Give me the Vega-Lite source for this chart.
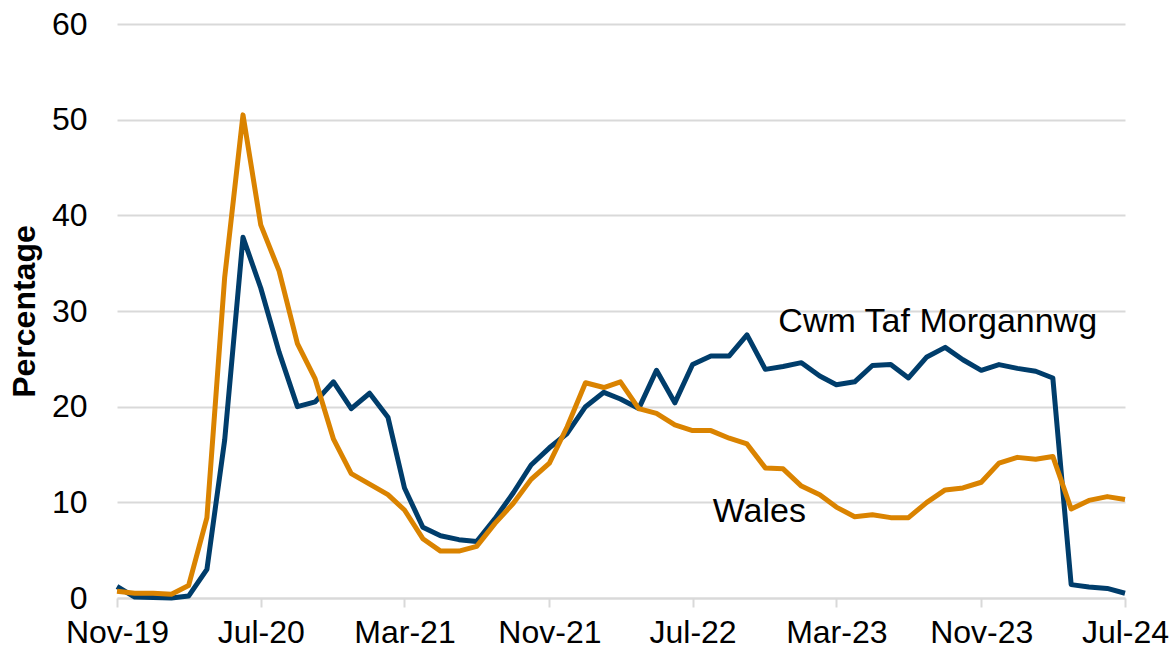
{
  "$schema": "https://vega.github.io/schema/vega-lite/v6.json",
  "autosize": {"type": "none"},
  "width": 1008,
  "height": 574,
  "padding": {"left": 117, "top": 24, "right": 50, "bottom": 53},
  "background": "white",
  "config": {
    "view": {"stroke": null},
    "font": "Liberation Sans",
    "axis": {"labelFont": "Liberation Sans", "titleFont": "Liberation Sans", "labelColor": "#000000", "titleColor": "#000000"}
  },
  "datasets": {
    "series": [
      {"date": "2019-11-01", "area": "Cwm Taf Morgannwg", "value": 1.2},
      {"date": "2019-12-01", "area": "Cwm Taf Morgannwg", "value": 0.1},
      {"date": "2020-01-01", "area": "Cwm Taf Morgannwg", "value": 0.05},
      {"date": "2020-02-01", "area": "Cwm Taf Morgannwg", "value": 0.0},
      {"date": "2020-03-01", "area": "Cwm Taf Morgannwg", "value": 0.2},
      {"date": "2020-04-01", "area": "Cwm Taf Morgannwg", "value": 3.0},
      {"date": "2020-05-01", "area": "Cwm Taf Morgannwg", "value": 16.5},
      {"date": "2020-06-01", "area": "Cwm Taf Morgannwg", "value": 37.7},
      {"date": "2020-07-01", "area": "Cwm Taf Morgannwg", "value": 32.4},
      {"date": "2020-08-01", "area": "Cwm Taf Morgannwg", "value": 25.7},
      {"date": "2020-09-01", "area": "Cwm Taf Morgannwg", "value": 20.0},
      {"date": "2020-10-01", "area": "Cwm Taf Morgannwg", "value": 20.5},
      {"date": "2020-11-01", "area": "Cwm Taf Morgannwg", "value": 22.6},
      {"date": "2020-12-01", "area": "Cwm Taf Morgannwg", "value": 19.8},
      {"date": "2021-01-01", "area": "Cwm Taf Morgannwg", "value": 21.4},
      {"date": "2021-02-01", "area": "Cwm Taf Morgannwg", "value": 18.9},
      {"date": "2021-03-01", "area": "Cwm Taf Morgannwg", "value": 11.5},
      {"date": "2021-04-01", "area": "Cwm Taf Morgannwg", "value": 7.4},
      {"date": "2021-05-01", "area": "Cwm Taf Morgannwg", "value": 6.5},
      {"date": "2021-06-01", "area": "Cwm Taf Morgannwg", "value": 6.1},
      {"date": "2021-07-01", "area": "Cwm Taf Morgannwg", "value": 5.9},
      {"date": "2021-08-01", "area": "Cwm Taf Morgannwg", "value": 8.3},
      {"date": "2021-09-01", "area": "Cwm Taf Morgannwg", "value": 11.0},
      {"date": "2021-10-01", "area": "Cwm Taf Morgannwg", "value": 13.9},
      {"date": "2021-11-01", "area": "Cwm Taf Morgannwg", "value": 15.7},
      {"date": "2021-12-01", "area": "Cwm Taf Morgannwg", "value": 17.2},
      {"date": "2022-01-01", "area": "Cwm Taf Morgannwg", "value": 20.0},
      {"date": "2022-02-01", "area": "Cwm Taf Morgannwg", "value": 21.5},
      {"date": "2022-03-01", "area": "Cwm Taf Morgannwg", "value": 20.8},
      {"date": "2022-04-01", "area": "Cwm Taf Morgannwg", "value": 19.8},
      {"date": "2022-05-01", "area": "Cwm Taf Morgannwg", "value": 23.8},
      {"date": "2022-06-01", "area": "Cwm Taf Morgannwg", "value": 20.4},
      {"date": "2022-07-01", "area": "Cwm Taf Morgannwg", "value": 24.4},
      {"date": "2022-08-01", "area": "Cwm Taf Morgannwg", "value": 25.3},
      {"date": "2022-09-01", "area": "Cwm Taf Morgannwg", "value": 25.3},
      {"date": "2022-10-01", "area": "Cwm Taf Morgannwg", "value": 27.5},
      {"date": "2022-11-01", "area": "Cwm Taf Morgannwg", "value": 23.9},
      {"date": "2022-12-01", "area": "Cwm Taf Morgannwg", "value": 24.2},
      {"date": "2023-01-01", "area": "Cwm Taf Morgannwg", "value": 24.6},
      {"date": "2023-02-01", "area": "Cwm Taf Morgannwg", "value": 23.2},
      {"date": "2023-03-01", "area": "Cwm Taf Morgannwg", "value": 22.3},
      {"date": "2023-04-01", "area": "Cwm Taf Morgannwg", "value": 22.6},
      {"date": "2023-05-01", "area": "Cwm Taf Morgannwg", "value": 24.3},
      {"date": "2023-06-01", "area": "Cwm Taf Morgannwg", "value": 24.4},
      {"date": "2023-07-01", "area": "Cwm Taf Morgannwg", "value": 23.0},
      {"date": "2023-08-01", "area": "Cwm Taf Morgannwg", "value": 25.2},
      {"date": "2023-09-01", "area": "Cwm Taf Morgannwg", "value": 26.2},
      {"date": "2023-10-01", "area": "Cwm Taf Morgannwg", "value": 24.9},
      {"date": "2023-11-01", "area": "Cwm Taf Morgannwg", "value": 23.8},
      {"date": "2023-12-01", "area": "Cwm Taf Morgannwg", "value": 24.4},
      {"date": "2024-01-01", "area": "Cwm Taf Morgannwg", "value": 24.0},
      {"date": "2024-02-01", "area": "Cwm Taf Morgannwg", "value": 23.7},
      {"date": "2024-03-01", "area": "Cwm Taf Morgannwg", "value": 23.0},
      {"date": "2024-04-01", "area": "Cwm Taf Morgannwg", "value": 1.4},
      {"date": "2024-05-01", "area": "Cwm Taf Morgannwg", "value": 1.15},
      {"date": "2024-06-01", "area": "Cwm Taf Morgannwg", "value": 1.0},
      {"date": "2024-07-01", "area": "Cwm Taf Morgannwg", "value": 0.5},
      {"date": "2019-11-01", "area": "Wales", "value": 0.7},
      {"date": "2019-12-01", "area": "Wales", "value": 0.5},
      {"date": "2020-01-01", "area": "Wales", "value": 0.5},
      {"date": "2020-02-01", "area": "Wales", "value": 0.4},
      {"date": "2020-03-01", "area": "Wales", "value": 1.3},
      {"date": "2020-04-01", "area": "Wales", "value": 8.4},
      {"date": "2020-05-01", "area": "Wales", "value": 33.5},
      {"date": "2020-06-01", "area": "Wales", "value": 50.5},
      {"date": "2020-07-01", "area": "Wales", "value": 39.0},
      {"date": "2020-08-01", "area": "Wales", "value": 34.2},
      {"date": "2020-09-01", "area": "Wales", "value": 26.6},
      {"date": "2020-10-01", "area": "Wales", "value": 22.9},
      {"date": "2020-11-01", "area": "Wales", "value": 16.6},
      {"date": "2020-12-01", "area": "Wales", "value": 13.0},
      {"date": "2021-01-01", "area": "Wales", "value": 11.9},
      {"date": "2021-02-01", "area": "Wales", "value": 10.8},
      {"date": "2021-03-01", "area": "Wales", "value": 9.2},
      {"date": "2021-04-01", "area": "Wales", "value": 6.2},
      {"date": "2021-05-01", "area": "Wales", "value": 4.9},
      {"date": "2021-06-01", "area": "Wales", "value": 4.9},
      {"date": "2021-07-01", "area": "Wales", "value": 5.4},
      {"date": "2021-08-01", "area": "Wales", "value": 7.8},
      {"date": "2021-09-01", "area": "Wales", "value": 9.9},
      {"date": "2021-10-01", "area": "Wales", "value": 12.4},
      {"date": "2021-11-01", "area": "Wales", "value": 14.1},
      {"date": "2021-12-01", "area": "Wales", "value": 17.9},
      {"date": "2022-01-01", "area": "Wales", "value": 22.5},
      {"date": "2022-02-01", "area": "Wales", "value": 22.0},
      {"date": "2022-03-01", "area": "Wales", "value": 22.6},
      {"date": "2022-04-01", "area": "Wales", "value": 19.8},
      {"date": "2022-05-01", "area": "Wales", "value": 19.3},
      {"date": "2022-06-01", "area": "Wales", "value": 18.1},
      {"date": "2022-07-01", "area": "Wales", "value": 17.5},
      {"date": "2022-08-01", "area": "Wales", "value": 17.5},
      {"date": "2022-09-01", "area": "Wales", "value": 16.7},
      {"date": "2022-10-01", "area": "Wales", "value": 16.1},
      {"date": "2022-11-01", "area": "Wales", "value": 13.6},
      {"date": "2022-12-01", "area": "Wales", "value": 13.5},
      {"date": "2023-01-01", "area": "Wales", "value": 11.7},
      {"date": "2023-02-01", "area": "Wales", "value": 10.8},
      {"date": "2023-03-01", "area": "Wales", "value": 9.5},
      {"date": "2023-04-01", "area": "Wales", "value": 8.5},
      {"date": "2023-05-01", "area": "Wales", "value": 8.7},
      {"date": "2023-06-01", "area": "Wales", "value": 8.4},
      {"date": "2023-07-01", "area": "Wales", "value": 8.4},
      {"date": "2023-08-01", "area": "Wales", "value": 10.0},
      {"date": "2023-09-01", "area": "Wales", "value": 11.3},
      {"date": "2023-10-01", "area": "Wales", "value": 11.5},
      {"date": "2023-11-01", "area": "Wales", "value": 12.1},
      {"date": "2023-12-01", "area": "Wales", "value": 14.1},
      {"date": "2024-01-01", "area": "Wales", "value": 14.7},
      {"date": "2024-02-01", "area": "Wales", "value": 14.5},
      {"date": "2024-03-01", "area": "Wales", "value": 14.8},
      {"date": "2024-04-01", "area": "Wales", "value": 9.3},
      {"date": "2024-05-01", "area": "Wales", "value": 10.2},
      {"date": "2024-06-01", "area": "Wales", "value": 10.6},
      {"date": "2024-07-01", "area": "Wales", "value": 10.3}
    ],
    "labels": [
      {"date": "2022-11-23", "value": 28.85, "text": "Cwm Taf Morgannwg"},
      {"date": "2022-08-04", "value": 9.0, "text": "Wales"}
    ]
  },
  "layer": [
    {
      "data": {"name": "series"},
      "mark": {"type": "line", "strokeWidth": 5, "strokeJoin": "round", "strokeCap": "butt"},
      "encoding": {
        "x": {
          "field": "date", "type": "temporal",
          "scale": {"type": "utc", "domain": [{"year": 2019, "month": 11, "date": 1, "utc": true}, {"year": 2024, "month": 7, "date": 1, "utc": true}], "nice": false},
          "axis": {
            "title": null,
            "values": [
              {"year": 2019, "month": 11, "date": 1, "utc": true},
              {"year": 2020, "month": 7, "date": 1, "utc": true},
              {"year": 2021, "month": 3, "date": 1, "utc": true},
              {"year": 2021, "month": 11, "date": 1, "utc": true},
              {"year": 2022, "month": 7, "date": 1, "utc": true},
              {"year": 2023, "month": 3, "date": 1, "utc": true},
              {"year": 2023, "month": 11, "date": 1, "utc": true},
              {"year": 2024, "month": 7, "date": 1, "utc": true}
            ],
            "format": "%b-%y",
            "grid": false,
            "domainColor": "#d9d9d9", "domainWidth": 2,
            "tickColor": "#d9d9d9", "tickWidth": 2, "tickSize": 9,
            "labelFontSize": 32, "labelPadding": 10,
            "labelFlush": false, "labelOverlap": false, "labelBound": false
          }
        },
        "y": {
          "field": "value", "type": "quantitative",
          "scale": {"domain": [0, 60], "nice": false},
          "axis": {
            "title": "Percentage",
            "titleFontSize": 32, "titleFontWeight": "bold", "titlePadding": 10,
            "values": [0, 10, 20, 30, 40, 50, 60],
            "grid": true, "gridColor": "#d9d9d9", "gridWidth": 2,
            "domain": false, "ticks": false,
            "labelFontSize": 32, "labelPadding": 30
          }
        },
        "color": {
          "field": "area", "type": "nominal",
          "scale": {"domain": ["Cwm Taf Morgannwg", "Wales"], "range": ["#003d6b", "#da8300"]},
          "legend": null
        }
      }
    },
    {
      "data": {"name": "labels"},
      "mark": {"type": "text", "align": "left", "baseline": "middle", "fontSize": 34, "font": "Liberation Sans", "color": "#000000"},
      "encoding": {
        "x": {"field": "date", "type": "temporal"},
        "y": {"field": "value", "type": "quantitative"},
        "text": {"field": "text"}
      }
    }
  ]
}
